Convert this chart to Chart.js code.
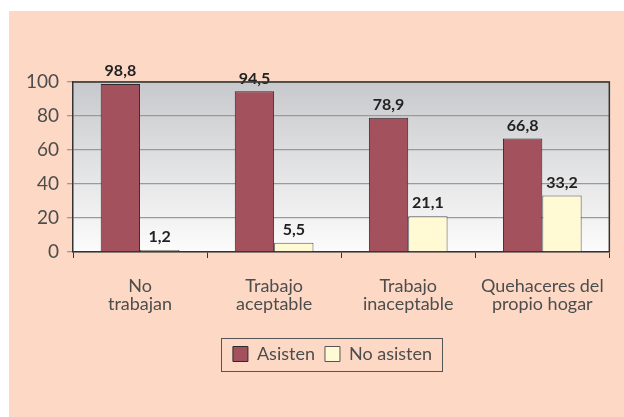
<!DOCTYPE html>
<html>
<head>
<meta charset="utf-8">
<script src="https://cdn.jsdelivr.net/npm/chart.js@4.4.1/dist/chart.umd.min.js"></script>
<style>
  html, body { margin: 0; padding: 0; background: #fff; }
  #wrap { width: 624px; height: 417px; }
</style>
</head>
<body>
<div id="wrap"><canvas id="grafico" width="624" height="417"></canvas></div>
<script>
// Datos del grafico
const categorias = [['No', 'trabajan'], ['Trabajo', 'aceptable'], ['Trabajo', 'inaceptable'], ['Quehaceres del', 'propio hogar']];
const asisten = [98.8, 94.5, 78.9, 66.8];
const noAsisten = [1.2, 5.5, 21.1, 33.2];
const etiquetasSeries = ['Asisten', 'No asisten'];
const ticksY = [0, 20, 40, 60, 80, 100];

const FUENTE = 'Lato, "DejaVu Sans", sans-serif';
const DESPLAZA_LEYENDA = 26;

// fondo durazno + degradado del area del grafico
const fondoPlugin = {
    id: 'fondo',
    afterLayout(chart) {
        // la leyenda va un poco a la derecha, como en el original
        const lg = chart.legend;
        lg.left += DESPLAZA_LEYENDA;
        lg.right += DESPLAZA_LEYENDA;
        (lg.legendHitBoxes || []).forEach(h => { h.left += DESPLAZA_LEYENDA; });
    },
    beforeDraw(chart) {
        const ctx = chart.ctx;
        const a = chart.chartArea;
        ctx.save();
        ctx.fillStyle = '#fdd9c5';
        ctx.fillRect(9, 11, chart.width - 9, chart.height - 11);
        const g = ctx.createLinearGradient(0, a.top, 0, a.bottom);
        g.addColorStop(0, '#c8c9cc');
        g.addColorStop(1, '#fcfcfc');
        ctx.fillStyle = g;
        ctx.fillRect(a.left, a.top, a.right - a.left, a.bottom - a.top);
        ctx.restore();
    },
    afterDraw(chart) {
        const ctx = chart.ctx;
        const a = chart.chartArea;
        ctx.save();
        ctx.strokeStyle = '#333';
        ctx.lineWidth = 1.5;
        ctx.beginPath();
        ctx.moveTo(a.left, a.top);
        ctx.lineTo(a.right, a.top);
        ctx.lineTo(a.right, a.bottom);
        ctx.stroke();
        // recuadro de la leyenda
        const hb = chart.legend.legendHitBoxes;
        if (hb && hb.length) {
            const x0 = hb[0].left - 12;
            const x1 = hb[hb.length - 1].left + hb[hb.length - 1].width + 10;
            const yc = hb[0].top + hb[0].height / 2;
            ctx.strokeStyle = '#555';
            ctx.lineWidth = 1;
            ctx.strokeRect(Math.round(x0) + 0.5, Math.round(yc - 16) + 0.5, Math.round(x1 - x0), 33);
        }
        ctx.restore();
    }
};

// etiquetas de valores sobre las barras
const valoresPlugin = {
    id: 'valores',
    afterDatasetsDraw(chart) {
        const ctx = chart.ctx;
        ctx.save();
        ctx.font = 'bold 16px ' + FUENTE;
        ctx.fillStyle = '#222';
        ctx.textAlign = 'center';
        ctx.textBaseline = 'bottom';
        chart.data.datasets.forEach((ds, i) => {
            chart.getDatasetMeta(i).data.forEach((bar, j) => {
                const txt = ds.data[j].toFixed(1).replace('.', ',');
                ctx.fillText(txt, bar.x, bar.y - 5);
            });
        });
        ctx.restore();
    }
};

const ctx = document.getElementById('grafico').getContext('2d');
const grafico = new Chart(ctx, {
    type: 'bar',
    data: {
        labels: categorias,
        datasets: [
            {
                label: etiquetasSeries[0],
                data: asisten,
                backgroundColor: '#a2515d',
                borderColor: '#2b2b2b',
                borderWidth: 1
            },
            {
                label: etiquetasSeries[1],
                data: noAsisten,
                backgroundColor: '#fff9d4',
                borderColor: '#555',
                borderWidth: 1
            }
        ]
    },
    options: {
        responsive: false,
        animation: false,
        devicePixelRatio: 1,
        layout: { padding: { top: 82, right: 11, bottom: 44, left: 0 } },
        datasets: { bar: { categoryPercentage: 0.587, barPercentage: 1 } },
        scales: {
            x: {
                grid: {
                    drawOnChartArea: false,
                    tickLength: 6,
                    color: '#333'
                },
                border: { color: '#333', width: 1.5 },
                ticks: {
                    color: '#4d4d4d',
                    padding: 19,
                    maxRotation: 0,
                    font: { family: FUENTE, size: 18, lineHeight: 1.0 }
                },
                afterFit(s) { s.height = 83; }
            },
            y: {
                min: 0,
                max: 100,
                afterBuildTicks(s) { s.ticks = ticksY.map(v => ({ value: v })); },
                grid: {
                    color: '#9a9a9a',
                    tickLength: 6,
                    lineWidth: 1.3
                },
                border: { color: '#333', width: 1.5 },
                ticks: {
                    color: '#4d4d4d',
                    padding: 8,
                    font: { family: FUENTE, size: 19 }
                },
                afterFit(s) { s.width = 73; }
            }
        },
        plugins: {
            legend: {
                position: 'bottom',
                labels: {
                    color: '#4d4d4d',
                    boxWidth: 15,
                    boxHeight: 15,
                    padding: 10,
                    font: { family: FUENTE, size: 18 }
                }
            },
            tooltip: { enabled: false }
        }
    },
    plugins: [fondoPlugin, valoresPlugin]
});
</script>
</body>
</html>
